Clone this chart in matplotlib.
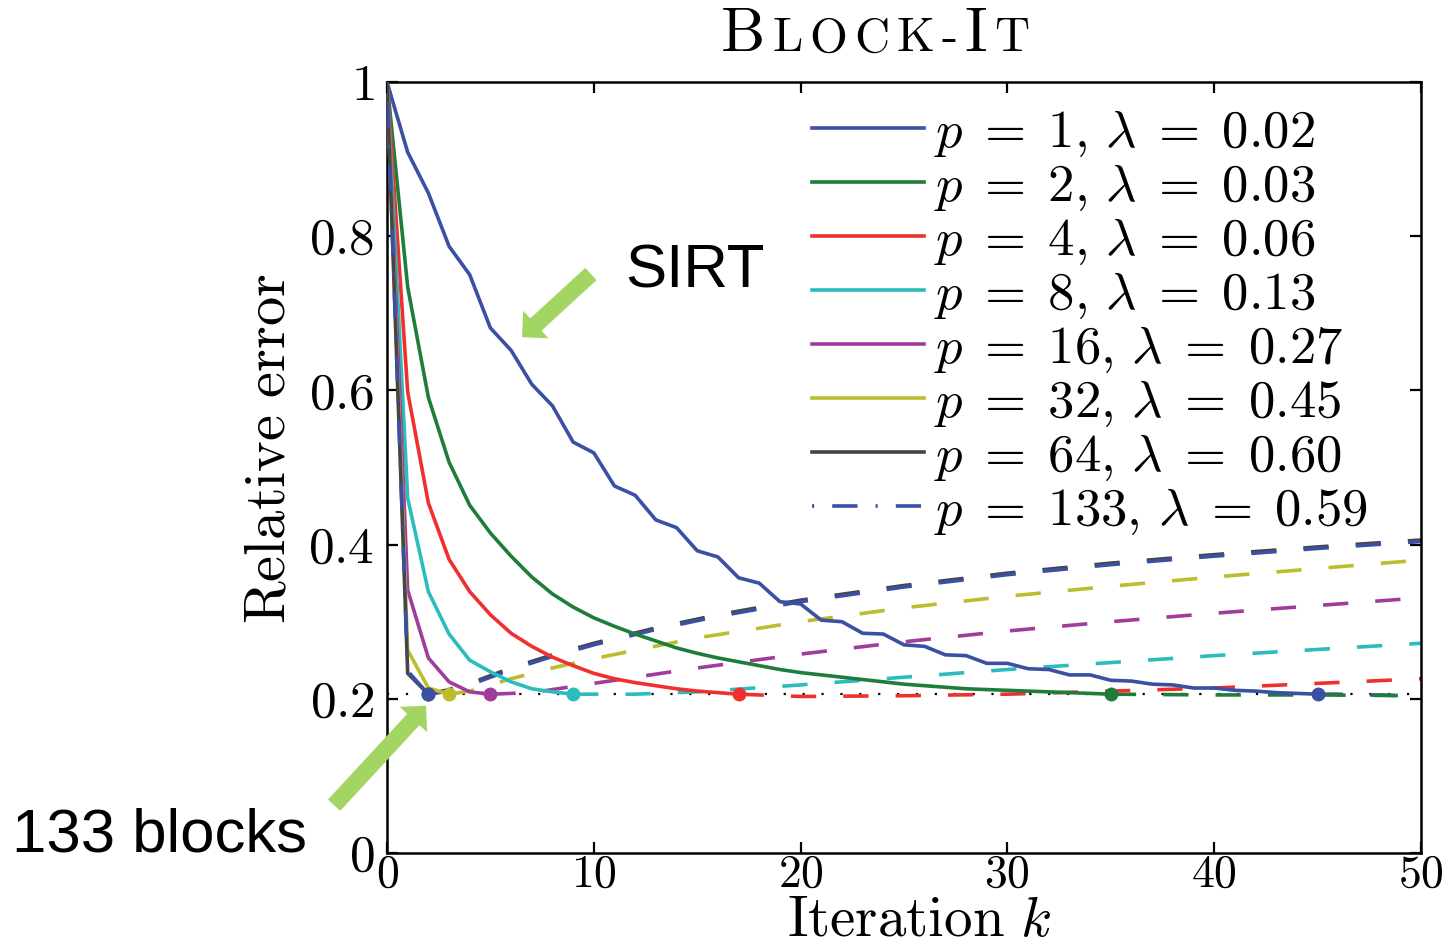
import numpy as np
import matplotlib
matplotlib.use("Agg")
import matplotlib.pyplot as plt
from matplotlib.lines import Line2D
from matplotlib.offsetbox import TextArea, HPacker, AnchoredOffsetbox

plt.rcParams['mathtext.fontset'] = 'cm'
plt.rcParams['font.family'] = 'cmr10'
plt.rcParams['axes.unicode_minus'] = False

# ---- data ----
p_vals = [1, 2, 4, 8, 16, 32, 64, 133]
lam_vals = ['0.02', '0.03', '0.06', '0.13', '0.27', '0.45', '0.60', '0.59']
colors = ['#3b4fa3', '#1f7d3b', '#f0302c', '#2bbdbd', '#a03d9c', '#bcbc2f', '#454545', '#3b4fa3']

# solid part (up to the stopping iteration)
k_p1 = list(range(0, 46))
e_p1 = [1.000, 0.909, 0.856, 0.787, 0.750, 0.681, 0.652, 0.608, 0.580, 0.533,
        0.519, 0.476, 0.464, 0.432, 0.422, 0.392, 0.384, 0.357, 0.350, 0.326,
        0.323, 0.302, 0.300, 0.285, 0.284, 0.270, 0.268, 0.257, 0.256, 0.246,
        0.246, 0.239, 0.238, 0.231, 0.231, 0.224, 0.223, 0.219, 0.218, 0.214,
        0.214, 0.211, 0.210, 0.208, 0.207, 0.206]
k_p2 = list(range(0, 36))
e_p2 = [1.000, 0.734, 0.591, 0.507, 0.451, 0.415, 0.385, 0.358, 0.336, 0.319,
        0.305, 0.294, 0.284, 0.275, 0.266, 0.259, 0.253, 0.248, 0.243, 0.238,
        0.234, 0.231, 0.228, 0.225, 0.222, 0.219, 0.217, 0.215, 0.213, 0.212,
        0.211, 0.210, 0.209, 0.208, 0.207, 0.206]
k_p4 = list(range(0, 18))
e_p4 = [1.000, 0.598, 0.454, 0.381, 0.339, 0.309, 0.285, 0.268, 0.254, 0.243,
        0.233, 0.226, 0.221, 0.217, 0.213, 0.210, 0.208, 0.206]
k_p8 = list(range(0, 10))
e_p8 = [1.000, 0.460, 0.339, 0.284, 0.250, 0.235, 0.222, 0.213, 0.209, 0.206]
k_p16 = [0, 1, 2, 3, 4, 5]
e_p16 = [1.000, 0.341, 0.253, 0.222, 0.209, 0.206]
k_p32 = [0, 1, 2, 3]
e_p32 = [1.000, 0.263, 0.214, 0.206]
k_p64 = [0, 1, 2]
e_p64 = [1.000, 0.233, 0.206]
k_p133 = [0, 1, 2]
e_p133 = [1.000, 0.236, 0.206]

# dashed part (after the stopping iteration)
kd_p1 = [45, 46, 47, 48, 49, 50]
ed_p1 = [0.206, 0.206, 0.205, 0.205, 0.204, 0.204]
kd_p2 = [35, 40, 45, 50]
ed_p2 = [0.206, 0.205, 0.205, 0.204]
kd_p4 = [17, 20, 25, 30, 35, 40, 45, 50]
ed_p4 = [0.206, 0.203, 0.204, 0.206, 0.210, 0.214, 0.220, 0.226]
kd_p8 = [9, 12, 15, 20, 25, 30, 35, 40, 45, 50]
ed_p8 = [0.206, 0.206, 0.209, 0.218, 0.228, 0.238, 0.247, 0.256, 0.264, 0.272]
kd_p16 = [5, 7, 10, 15, 20, 25, 30, 35, 40, 45, 50]
ed_p16 = [0.206, 0.208, 0.220, 0.240, 0.258, 0.274, 0.288, 0.300, 0.311, 0.321, 0.331]
kd_p32 = [3, 4, 6, 8, 10, 12, 15, 20, 25, 30, 35, 40, 45, 50]
ed_p32 = [0.206, 0.210, 0.226, 0.240, 0.252, 0.263, 0.279, 0.300, 0.318, 0.333,
          0.346, 0.358, 0.369, 0.380]
kd_p64 = [2, 3, 4, 6, 8, 10, 13, 16, 20, 25, 30, 35, 40, 45, 50]
ed_p64 = [0.206, 0.212, 0.220, 0.240, 0.257, 0.272, 0.292, 0.309, 0.328, 0.347,
          0.363, 0.376, 0.387, 0.397, 0.406]
kd_p133 = [2, 3, 4, 6, 8, 10, 13, 16, 20, 25, 30, 35, 40, 45, 50]
ed_p133 = [0.206, 0.210, 0.218, 0.238, 0.255, 0.270, 0.290, 0.307, 0.326, 0.345,
           0.361, 0.374, 0.385, 0.395, 0.404]

min_err = 0.2065

solid_k = [k_p1, k_p2, k_p4, k_p8, k_p16, k_p32, k_p64, k_p133]
solid_e = [e_p1, e_p2, e_p4, e_p8, e_p16, e_p32, e_p64, e_p133]
dash_k = [kd_p1, kd_p2, kd_p4, kd_p8, kd_p16, kd_p32, kd_p64, kd_p133]
dash_e = [ed_p1, ed_p2, ed_p4, ed_p8, ed_p16, ed_p32, ed_p64, ed_p133]

# ---- figure ----
fig = plt.figure(figsize=(14.56, 9.44), dpi=100)
ax = fig.add_axes([0.2658, 0.0964, 0.7102, 0.8167])

lw = 2.6
dashdot = (0, (0.6, 5, 7, 5))
dashed = (0, (7, 7.5))

ax.axhline(min_err, color='black', lw=1.6, ls=(0, (1, 7.5)), zorder=1)

for i in range(len(p_vals)):
    ls = dashdot if p_vals[i] == 133 else '-'
    ax.plot(dash_k[i], dash_e[i], color=colors[i], lw=lw, ls=dashed, zorder=2)
    ax.plot(solid_k[i], solid_e[i], color=colors[i], lw=lw, ls=ls, zorder=3)
    ax.plot(solid_k[i][-1], solid_e[i][-1], 'o', color=colors[i], ms=9, zorder=4)

ax.set_xlim(0, 50)
ax.set_ylim(0, 1)
ax.set_xticks([0, 10, 20, 30, 40, 50])
ax.set_xticklabels([r'$0$', r'$10$', r'$20$', r'$30$', r'$40$', r'$50$'])
ax.set_yticks([0, 0.2, 0.4, 0.6, 0.8, 1])
ax.set_yticklabels([r'$0$', r'$0.2$', r'$0.4$', r'$0.6$', r'$0.8$', r'$1$'])
ax.tick_params(direction='in', length=8, width=1.6, top=True, right=True, labelsize=37)
ax.tick_params(axis='y', pad=9)
ax.tick_params(axis='x', pad=1, labelsize=33)
for s in ax.spines.values():
    s.set_linewidth(1.8)

ax.set_xlabel(r'$\mathrm{Iteration}\ k$', fontsize=41)
ax.set_ylabel(r'$\mathrm{Relative\ error}$', fontsize=42)
ax.xaxis.set_label_coords(0.5145, -0.1075)
ax.xaxis.label.set_va('baseline')
ax.yaxis.set_label_coords(-0.0986, 0.524)
ax.yaxis.label.set_va('baseline')

# legend
handles = []
labels = []
for i in range(len(p_vals)):
    ls = dashdot if p_vals[i] == 133 else '-'
    handles.append(Line2D([], [], color=colors[i], lw=lw, ls=ls))
    labels.append(r'$p\;=\;%d,\,\lambda\;=\;%s$' % (p_vals[i], lam_vals[i]))
leg = fig.legend(handles, labels, loc='upper left', bbox_to_anchor=(812 / 1456, 0.8851),
                 frameon=False, fontsize=38, handlelength=2.12, handletextpad=0.2,
                 labelspacing=0.074, borderaxespad=0, borderpad=0)

# title in small caps
parts = [('B', 45), ('L', 35), ('O', 35), ('C', 35), ('K', 35), ('-', 35), ('I', 45), ('T', 35)]
boxes = [TextArea(t, textprops=dict(fontsize=s, family='cmr10')) for t, s in parts]
pack = HPacker(children=boxes, align='baseline', pad=0, sep=5)
title_box = AnchoredOffsetbox(loc='lower center', child=pack, frameon=False, pad=0,
                              borderpad=0, bbox_to_anchor=(0.601, 0.933),
                              bbox_transform=fig.transFigure)
fig.add_artist(title_box)

# annotations
green = '#a3d563'
astyle = 'simple,head_length=13.5,head_width=27,tail_width=12'
ax.annotate('', xy=(6.53, 0.669), xytext=(9.86, 0.751),
            arrowprops=dict(arrowstyle=astyle, mutation_scale=1, color=green,
                            shrinkA=0, shrinkB=0, lw=0), annotation_clip=False, zorder=6)
ax.annotate('', xy=(1.89, 0.191), xytext=(-2.56, 0.062),
            arrowprops=dict(arrowstyle=astyle, mutation_scale=1, color=green,
                            shrinkA=0, shrinkB=0, lw=0), annotation_clip=False, zorder=6)
ax.text(11.51, 0.734, 'SIRT', fontsize=44.5, family='Liberation Sans', va='baseline')
ax.text(-18.13, 0.0013, '133 blocks', fontsize=44.5, family='Liberation Sans',
        va='baseline', clip_on=False)

fig.savefig('out.png', dpi=100)
